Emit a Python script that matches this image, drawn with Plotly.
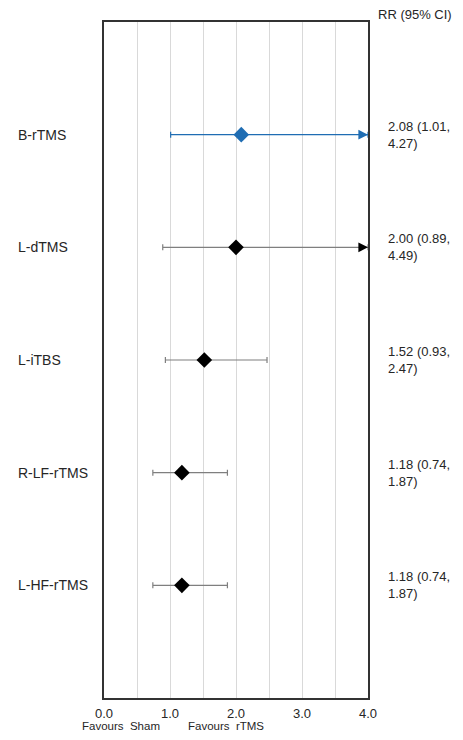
import plotly.graph_objects as go

treatments = ["B-rTMS", "L-dTMS", "L-iTBS", "R-LF-rTMS", "L-HF-rTMS"]
rr = [2.08, 2.00, 1.52, 1.18, 1.18]
ci_low = [1.01, 0.89, 0.93, 0.74, 0.74]
ci_high = [4.27, 4.49, 2.47, 1.87, 1.87]
marker_colors = ["#1f6db3", "#000000", "#000000", "#000000", "#000000"]
line_colors = ["#1f6db3", "#7f7f7f", "#7f7f7f", "#7f7f7f", "#7f7f7f"]
head_colors = ["#1f6db3", "#000000", "#000000", "#000000", "#000000"]
x_max = 4.0
tick_vals = [0, 0.5, 1, 1.5, 2, 2.5, 3, 3.5, 4]
tick_text = ["0.0", "", "1.0", "", "2.0", "", "3.0", "", "4.0"]

FONT = "Liberation Sans, Arial, sans-serif"
TXT = "#262626"

fig = go.Figure()
annotations = []
for i, name in enumerate(treatments):
    pos = i + 1
    hi = min(ci_high[i], x_max)
    fig.add_trace(go.Scatter(
        x=[rr[i]], y=[pos], mode="markers",
        marker=dict(symbol="diamond", size=12, color=marker_colors[i]),
        error_x=dict(type="data", symmetric=False,
                     array=[hi - rr[i]], arrayminus=[rr[i] - ci_low[i]],
                     color=line_colors[i], thickness=1.2, width=3),
        showlegend=False, hoverinfo="skip", cliponaxis=False,
    ))
    if ci_high[i] > x_max:
        annotations.append(dict(
            x=x_max, y=pos, xref="x", yref="y", text="", showarrow=True,
            ax=-10, ay=0, arrowhead=2, arrowsize=1.6, arrowwidth=1.2,
            arrowcolor=head_colors[i],
        ))
    annotations.append(dict(
        x=0, xref="paper", y=pos, yref="y", xshift=-88, xanchor="left",
        yanchor="middle", text=name, showarrow=False,
        font=dict(family=FONT, size=14, color=TXT),
    ))
    annotations.append(dict(
        x=1, xref="paper", y=pos, yref="y", xshift=18, xanchor="left",
        yanchor="middle", align="left",
        text=f"{rr[i]:.2f} ({ci_low[i]:.2f},<br>{ci_high[i]:.2f})",
        showarrow=False, font=dict(family=FONT, size=13, color=TXT),
    ))

annotations.append(dict(
    x=1, xref="paper", y=1, yref="paper", xshift=8, yshift=8,
    xanchor="left", yanchor="middle", text="RR (95% CI)", showarrow=False,
    font=dict(family=FONT, size=13, color=TXT),
))
annotations.append(dict(
    x=0, xref="paper", y=0, yref="paper", xshift=-24, yshift=-28,
    xanchor="left", yanchor="middle", text="Favours\u00a0 Sham", showarrow=False,
    font=dict(family=FONT, size=11.5, color=TXT),
))
annotations.append(dict(
    x=0, xref="paper", y=0, yref="paper", xshift=82, yshift=-28,
    xanchor="left", yanchor="middle", text="Favours\u00a0 rTMS", showarrow=False,
    font=dict(family=FONT, size=11.5, color=TXT),
))

fig.update_layout(
    width=447, height=724,
    margin=dict(l=96, r=87, t=14, b=34),
    paper_bgcolor="white", plot_bgcolor="white",
    font=dict(family=FONT, color=TXT),
    annotations=annotations,
    xaxis=dict(range=[0, x_max], tickvals=tick_vals, ticktext=tick_text,
               showgrid=True, gridcolor="#d9d9d9", gridwidth=1,
               showline=True, mirror=True, linecolor="#333333", linewidth=1.5,
               zeroline=False, ticks="", ticklabelstandoff=3,
               tickfont=dict(size=13, color=TXT)),
    yaxis=dict(range=[6, 0], showticklabels=False, showgrid=False,
               zeroline=False, showline=True, mirror=True,
               linecolor="#333333", linewidth=1.5, ticks=""),
)

fig.write_html("out.html")
